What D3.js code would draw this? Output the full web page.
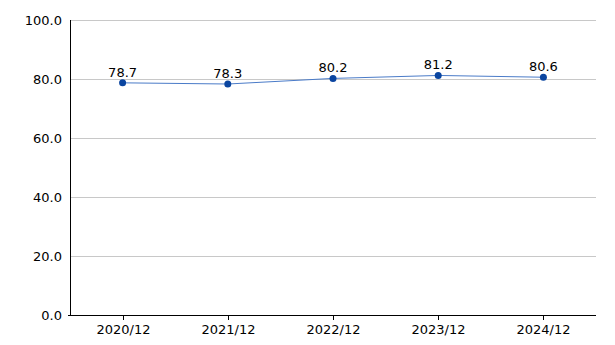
<!DOCTYPE html>
<html>
<head>
<meta charset="utf-8">
<script src="https://cdn.jsdelivr.net/npm/d3@7"></script>
<style>
  body { margin: 0; background: #fff; }
  text { font-family: "DejaVu Sans", Verdana, sans-serif; font-size: 13px; fill: #000; }
</style>
</head>
<body>
<div id="chart"></div>
<script>
var periods = ["2020/12", "2021/12", "2022/12", "2023/12", "2024/12"];
var values = [78.7, 78.3, 80.2, 81.2, 80.6];
var yTicks = [0, 20, 40, 60, 80, 100];

var W = 615, H = 345;
var mLeft = 70, mRight = 596, mTop = 20, mBottom = 315;

var svg = d3.select("#chart").append("svg").attr("width", W).attr("height", H);

var x = d3.scaleBand().domain(periods).range([mLeft, mRight]);
var y = d3.scaleLinear().domain([0, 100]).range([mBottom, mTop]);

// grid
svg.append("g").selectAll("line")
  .data(yTicks.filter(function (d) { return d > 0; }))
  .enter().append("line")
  .attr("x1", mLeft).attr("x2", mRight)
  .attr("y1", function (d) { return Math.round(y(d)) + 0.5; })
  .attr("y2", function (d) { return Math.round(y(d)) + 0.5; })
  .attr("stroke", "#c8c8c8").attr("stroke-width", 1);

// y labels
svg.append("g").selectAll("text")
  .data(yTicks)
  .enter().append("text")
  .attr("x", mLeft - 8)
  .attr("y", function (d) { return y(d); })
  .attr("dy", "0.35em")
  .attr("text-anchor", "end")
  .text(function (d) { return d.toFixed(1); });

// axes lines
svg.append("line").attr("x1", mLeft + 0.5).attr("x2", mLeft + 0.5)
  .attr("y1", mTop).attr("y2", mBottom)
  .attr("stroke", "#000");
svg.append("line").attr("x1", mLeft - 2).attr("x2", mRight)
  .attr("y1", mBottom + 0.5).attr("y2", mBottom + 0.5)
  .attr("stroke", "#000");

// x ticks + labels
var xg = svg.append("g").selectAll("g")
  .data(periods)
  .enter().append("g")
  .attr("transform", function (d) { return "translate(" + (Math.round(x(d) + x.bandwidth() / 2) + 0.5) + ",0)"; });
xg.append("line").attr("y1", mBottom).attr("y2", mBottom + 5).attr("stroke", "#000");
xg.append("text").attr("y", mBottom + 19).attr("text-anchor", "middle").text(function (d) { return d; });

// line
var line = d3.line()
  .x(function (d, i) { return x(periods[i]) + x.bandwidth() / 2; })
  .y(function (d) { return y(d); });
svg.append("path").datum(values)
  .attr("d", line)
  .attr("fill", "none")
  .attr("stroke", "#4a7bc8")
  .attr("stroke-width", 1);

// markers
svg.append("g").selectAll("circle")
  .data(values)
  .enter().append("circle")
  .attr("cx", function (d, i) { return x(periods[i]) + x.bandwidth() / 2; })
  .attr("cy", function (d) { return y(d); })
  .attr("r", 3.5)
  .attr("fill", "#0a45a0");

// value labels
svg.append("g").selectAll("text")
  .data(values)
  .enter().append("text")
  .attr("x", function (d, i) { return x(periods[i]) + x.bandwidth() / 2; })
  .attr("y", function (d) { return y(d) - 6; })
  .attr("text-anchor", "middle")
  .text(function (d) { return d.toFixed(1); });
</script>
</body>
</html>
